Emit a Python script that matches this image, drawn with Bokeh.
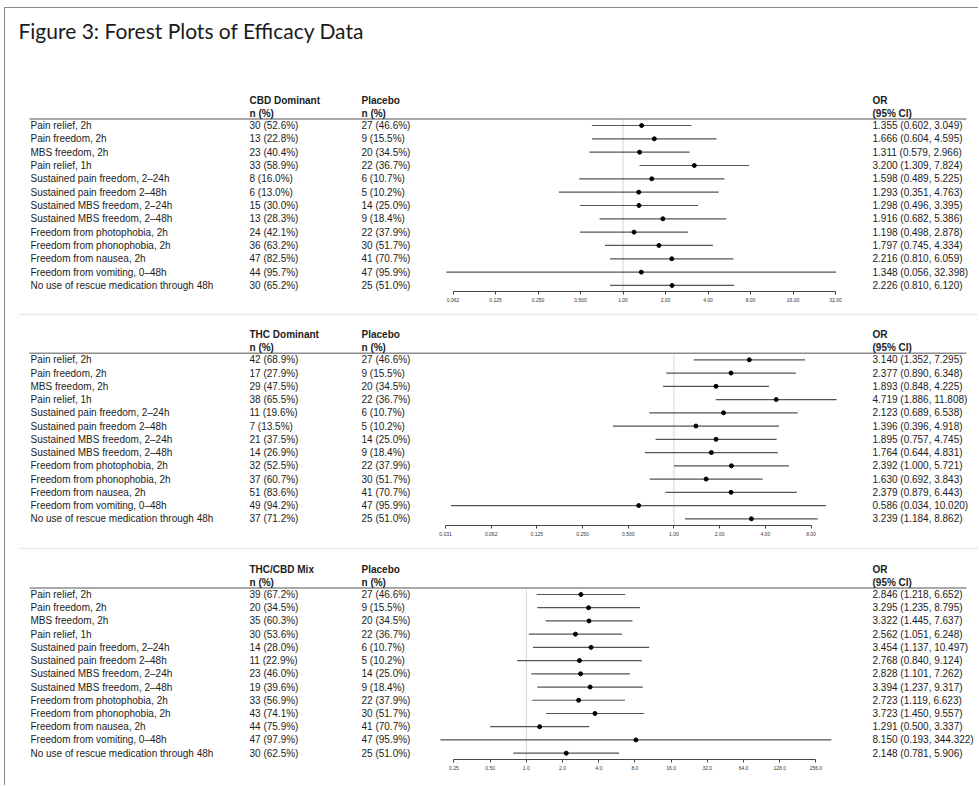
import numpy as np
from bokeh.plotting import figure
from bokeh.models import Range1d, LinearScale, FixedTicker, ColumnDataSource
from bokeh.layouts import column
from bokeh.core.properties import value
from bokeh.embed import file_html
from bokeh.resources import INLINE

# ---------------- data ----------------
outcomes = [
    "Pain relief, 2h", "Pain freedom, 2h", "MBS freedom, 2h", "Pain relief, 1h",
    "Sustained pain freedom, 2\u201324h", "Sustained pain freedom 2\u201348h",
    "Sustained MBS freedom, 2\u201324h", "Sustained MBS freedom, 2\u201348h",
    "Freedom from photophobia, 2h", "Freedom from phonophobia, 2h",
    "Freedom from nausea, 2h", "Freedom from vomiting, 0\u201348h",
    "No use of rescue medication through 48h",
]
placebo_n = [27, 9, 20, 22, 6, 5, 14, 9, 22, 30, 41, 47, 25]
placebo_pct = [46.6, 15.5, 34.5, 36.7, 10.7, 10.2, 25.0, 18.4, 37.9, 51.7, 70.7, 95.9, 51.0]

cbd_n = [30, 13, 23, 33, 8, 6, 15, 13, 24, 36, 47, 44, 30]
cbd_pct = [52.6, 22.8, 40.4, 58.9, 16.0, 13.0, 30.0, 28.3, 42.1, 63.2, 82.5, 95.7, 65.2]
cbd_or = [1.355, 1.666, 1.311, 3.200, 1.598, 1.293, 1.298, 1.916, 1.198, 1.797, 2.216, 1.348, 2.226]
cbd_lo = [0.602, 0.604, 0.579, 1.309, 0.489, 0.351, 0.496, 0.682, 0.498, 0.745, 0.810, 0.056, 0.810]
cbd_hi = [3.049, 4.595, 2.966, 7.824, 5.225, 4.763, 3.395, 5.386, 2.878, 4.334, 6.059, 32.398, 6.120]

thc_n = [42, 17, 29, 38, 11, 7, 21, 14, 32, 37, 51, 49, 37]
thc_pct = [68.9, 27.9, 47.5, 65.5, 19.6, 13.5, 37.5, 26.9, 52.5, 60.7, 83.6, 94.2, 71.2]
thc_or = [3.140, 2.377, 1.893, 4.719, 2.123, 1.396, 1.895, 1.764, 2.392, 1.630, 2.379, 0.586, 3.239]
thc_lo = [1.352, 0.890, 0.848, 1.886, 0.689, 0.396, 0.757, 0.644, 1.000, 0.692, 0.879, 0.034, 1.184]
thc_hi = [7.295, 6.348, 4.225, 11.808, 6.538, 4.918, 4.745, 4.831, 5.721, 3.843, 6.443, 10.020, 8.862]

mix_n = [39, 20, 35, 30, 14, 11, 23, 19, 33, 43, 44, 47, 30]
mix_pct = [67.2, 34.5, 60.3, 53.6, 28.0, 22.9, 46.0, 39.6, 56.9, 74.1, 75.9, 97.9, 62.5]
mix_or = [2.846, 3.295, 3.322, 2.562, 3.454, 2.768, 2.828, 3.394, 2.723, 3.723, 1.291, 8.150, 2.148]
mix_lo = [1.218, 1.235, 1.445, 1.051, 1.137, 0.840, 1.101, 1.237, 1.119, 1.450, 0.500, 0.193, 0.781]
mix_hi = [6.652, 8.795, 7.637, 6.248, 10.497, 9.124, 7.262, 9.317, 6.623, 9.557, 3.337, 344.322, 5.906]

cbd_ticks = [0.0625, 0.125, 0.25, 0.5, 1, 2, 4, 8, 16, 32]
cbd_tick_labels = ["0.062", "0.125", "0.250", "0.500", "1.00", "2.00", "4.00", "8.00", "16.00", "32.00"]
thc_ticks = [0.03125, 0.0625, 0.125, 0.25, 0.5, 1, 2, 4, 8]
thc_tick_labels = ["0.031", "0.062", "0.125", "0.250", "0.500", "1.00", "2.00", "4.00", "8.00"]
mix_ticks = [0.25, 0.5, 1, 2, 4, 8, 16, 32, 64, 128, 256]
mix_tick_labels = ["0.25", "0.50", "1.0", "2.0", "4.0", "8.0", "16.0", "32.0", "64.0", "128.0", "256.0"]

title_text = "Figure 3: Forest Plots of Efficacy Data"

# ---------------- layout ----------------
W = 973          # figure width
PX0 = 5          # page x of the frame's left edge (4px margin + 1px border)
FONT = value("Liberation Sans")
TXT = "#1c1c1c"


def panel(group, n, pct, orv, lo, hi, ticks, tick_labels, tick_a, tick_b,
          top, height, r0, sp, bb=17, sep_y=None, title=None):
    frame_bottom = top + height - bb
    per = (tick_b - tick_a) / np.log2(ticks[-1] / ticks[0])
    x0 = ticks[0] * 2 ** ((PX0 - tick_a) / per)
    x1 = ticks[0] * 2 ** ((PX0 + W - tick_a) / per)
    ytop = (top - r0) / sp
    ybot = (frame_bottom - r0) / sp

    p = figure(width=W, height=height, x_axis_type="log",
               x_range=Range1d(x0, x1), y_range=Range1d(ybot, ytop),
               y_axis_location=None, toolbar_location=None, output_backend="svg",
               min_border_left=0, min_border_right=0, min_border_top=0,
               min_border_bottom=bb)
    p.outline_line_color = None
    p.grid.visible = False
    p.background_fill_color = "white"
    p.border_fill_color = "white"
    p.extra_x_ranges = {"px": Range1d(PX0, PX0 + W)}
    p.extra_x_scales = {"px": LinearScale()}

    rows = np.arange(len(outcomes))
    src = ColumnDataSource(dict(
        y=rows,
        label=outcomes,
        trt=[f"{a} ({b:.1f}%)" for a, b in zip(n, pct)],
        pbo=[f"{a} ({b:.1f}%)" for a, b in zip(placebo_n, placebo_pct)],
        ortxt=[f"{o:.3f} ({l:.3f}, {h:.3f})" for o, l, h in zip(orv, lo, hi)],
        orv=orv, lo=lo, hi=hi,
    ))

    line_y = -6.5 / sp
    hdr1 = -25.0 / sp
    hdr2 = -12.0 / sp

    if sep_y is not None:
        sy = (sep_y - r0) / sp
        p.segment(x0=[18], x1=[PX0 + W], y0=[sy], y1=[sy], x_range_name="px",
                  line_color="#ebebeb", line_width=1.3)

    if title is not None:
        p.text(x=[18], y=[(30 - r0) / sp], text=[title], x_range_name="px",
               text_font=value("Lato"), text_font_size="21px",
               text_baseline="middle", text_color="#1a1a1a")

    # reference line at OR = 1
    p.segment(x0=[1], x1=[1], y0=[line_y], y1=[ybot],
              line_color="#d4d4d4", line_width=1)

    # header rule
    p.segment(x0=[29], x1=[966], y0=[line_y], y1=[line_y], x_range_name="px",
              line_color="#8c8c8c", line_width=1.6)

    # headers
    p.text(x=[249, 249, 361, 361, 872, 872],
           y=[hdr1, hdr2, hdr1, hdr2, hdr1, hdr2],
           text=[group, "n (%)", "Placebo", "n (%)", "OR", "(95% CI)"],
           x_range_name="px", text_font=FONT, text_font_size="10px",
           text_font_style="bold", text_baseline="middle", text_color=TXT)

    for col, xpx in [("label", 30), ("trt", 249), ("pbo", 361), ("ortxt", 872)]:
        p.text(x=xpx, y="y", text=col, source=src, x_range_name="px",
               text_font=FONT, text_font_size="10px",
               text_baseline="middle", text_color=TXT)

    # CIs and point estimates
    p.segment(x0="lo", x1="hi", y0="y", y1="y", source=src,
              line_color="#555555", line_width=1.2)
    p.scatter(x="orv", y="y", source=src, size=4,
              fill_color="black", line_color="black")

    ax = p.xaxis[0]
    ax.ticker = FixedTicker(ticks=[float(t) for t in ticks])
    ax.major_label_overrides = {float(t): l for t, l in zip(ticks, tick_labels)}
    ax.bounds = (float(ticks[0]), float(ticks[-1]))
    ax.axis_line_color = "#444444"
    ax.axis_line_width = 1
    ax.major_tick_line_color = "#444444"
    ax.major_tick_out = 3
    ax.major_tick_in = 0
    ax.minor_tick_line_color = None
    ax.major_label_text_font = "Liberation Sans"
    ax.major_label_text_font_size = "5px"
    ax.major_label_text_color = "#333333"
    ax.major_label_standoff = 3
    return p


p1 = panel("CBD Dominant", cbd_n, cbd_pct, cbd_or, cbd_lo, cbd_hi,
           cbd_ticks, cbd_tick_labels, 452.5, 835.0,
           top=8, height=300, r0=125.0, sp=13.33, title=title_text)
p2 = panel("THC Dominant", thc_n, thc_pct, thc_or, thc_lo, thc_hi,
           thc_ticks, thc_tick_labels, 445.0, 810.5,
           top=308, height=234, r0=359.3, sp=13.25, sep_y=314)
p3 = panel("THC/CBD Mix", mix_n, mix_pct, mix_or, mix_lo, mix_hi,
           mix_ticks, mix_tick_labels, 453.4, 815.4,
           top=542, height=243, r0=594.0, sp=13.22, bb=26, sep_y=548)

layout = column(p1, p2, p3, spacing=0,
                styles={"margin-left": "4px", "margin-top": "7px",
                        "border-left": "1px solid #8a8a8a",
                        "border-top": "1px solid #8a8a8a"})

open("out.html", "w").write(file_html(layout, INLINE))
